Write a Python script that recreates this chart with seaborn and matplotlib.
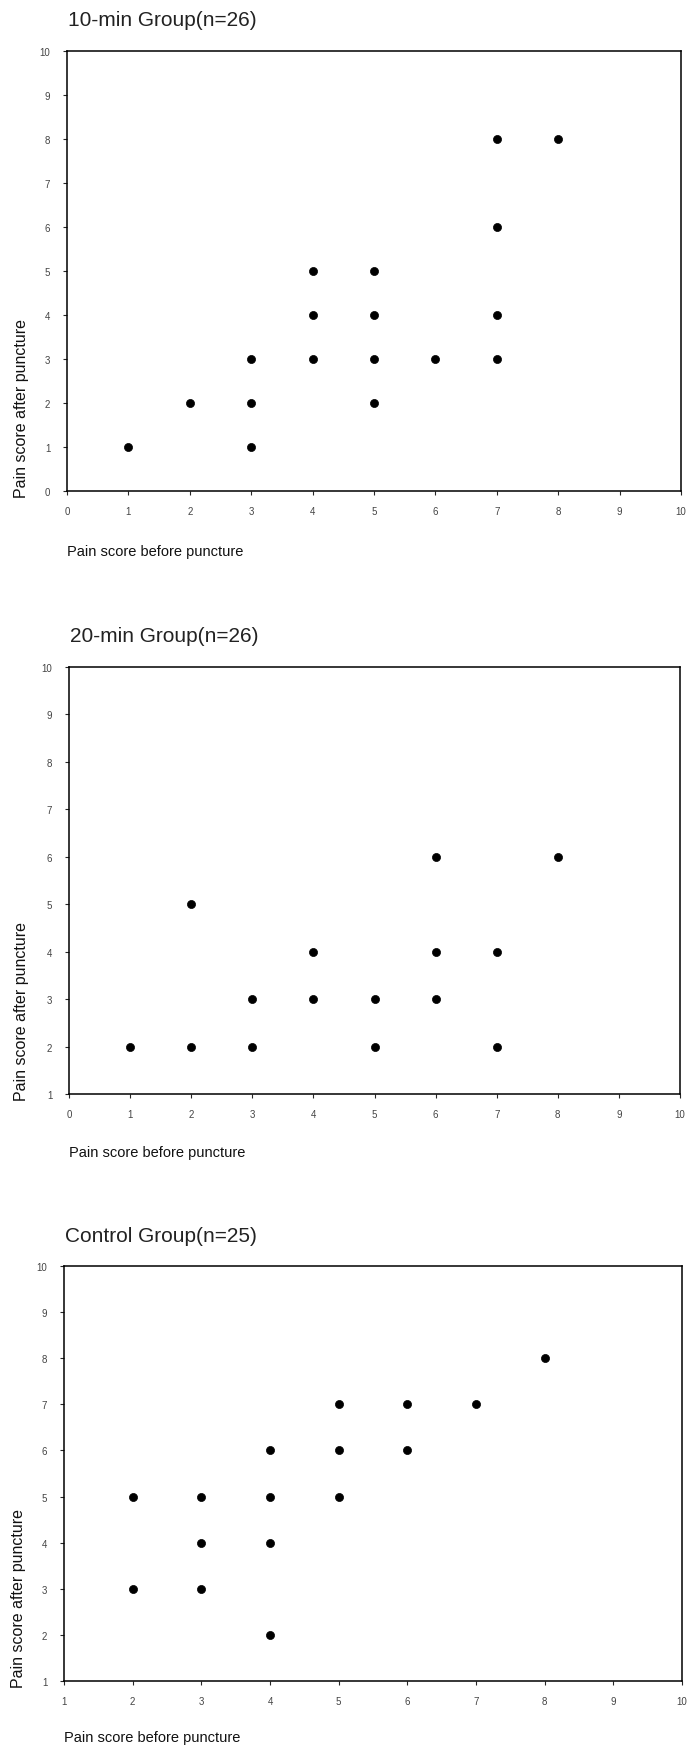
import numpy as np
import pandas as pd
import matplotlib
matplotlib.use("Agg")
import matplotlib.pyplot as plt
import seaborn as sns

# Pain scores (before, after) for each group
titles = ["10-min Group(n=26)", "20-min Group(n=26)", "Control Group(n=25)"]

before_10 = [1, 2, 3, 3, 3, 4, 4, 4, 5, 5, 5, 5, 6, 7, 7, 7, 7, 8]
after_10 = [1, 2, 1, 2, 3, 3, 4, 5, 2, 3, 4, 5, 3, 3, 4, 6, 8, 8]

before_20 = [1, 2, 2, 3, 3, 4, 4, 5, 5, 6, 6, 6, 7, 7, 8]
after_20 = [2, 2, 5, 2, 3, 3, 4, 2, 3, 3, 4, 6, 2, 4, 6]

before_ctl = [2, 2, 3, 3, 3, 4, 4, 4, 4, 5, 5, 5, 6, 6, 7, 8]
after_ctl = [3, 5, 3, 4, 5, 2, 4, 5, 6, 5, 6, 7, 6, 7, 7, 8]

x_ranges = [(0, 10), (0, 10), (1, 10)]
y_ranges = [(0, 10), (1, 10), (1, 10)]

xlab = "Pain score before puncture"
ylab = "Pain score after puncture"

sns.set_style("white")
plt.rcParams["font.family"] = ["Liberation Sans", "DejaVu Sans"]

W, H = 689, 1749
fig = plt.figure(figsize=(W / 100, H / 100), dpi=100)

# axes boxes in pixels: left, right, top, bottom
boxes = [(67, 681, 52, 492), (69, 680, 668, 1095), (64, 682, 1267, 1682)]
title_y = [20, 637, 1236]
xlab_y = [552, 1153, 1738]
ylab_x = [22, 22, 19]

groups = [(before_10, after_10), (before_20, after_20), (before_ctl, after_ctl)]

for i, (bx, ay) in enumerate(groups):
    l, r, t, b = boxes[i]
    ax = fig.add_axes([l / W, 1 - b / H, (r - l) / W, (b - t) / H])
    df = pd.DataFrame({"before": bx, "after": ay})
    sns.scatterplot(data=df, x="before", y="after", ax=ax, color="black",
                    marker="o", s=34, edgecolor="black", linewidth=0.5,
                    clip_on=False)
    ax.set_xlim(*x_ranges[i])
    ax.set_ylim(*y_ranges[i])
    ax.set_xticks(np.arange(x_ranges[i][0], x_ranges[i][1] + 1))
    ax.set_yticks(np.arange(y_ranges[i][0], y_ranges[i][1] + 1))
    ax.set_xlabel("")
    ax.set_ylabel("")
    for sp in ax.spines.values():
        sp.set_visible(True)
        sp.set_color("black")
        sp.set_linewidth(1.1)
    ax.tick_params(axis="both", direction="out", length=3, width=0.8,
                   labelsize=7, labelcolor="#444444", pad=8,
                   bottom=True, left=True, top=False, right=False)
    ax.tick_params(axis="y", pad=9)

    fig.text(boxes[i][0] / W + 0.001, 1 - title_y[i] / H, titles[i],
             fontsize=15, va="center", ha="left", color="#222222")
    fig.text(boxes[i][0] / W, 1 - xlab_y[i] / H, xlab,
             fontsize=10.5, va="center", ha="left", color="#111111")
    fig.text(ylab_x[i] / W, 1 - (b + 6) / H, ylab, rotation=90,
             fontsize=11.5, va="bottom", ha="center", color="#111111")

fig.savefig("out.png", dpi=100)
